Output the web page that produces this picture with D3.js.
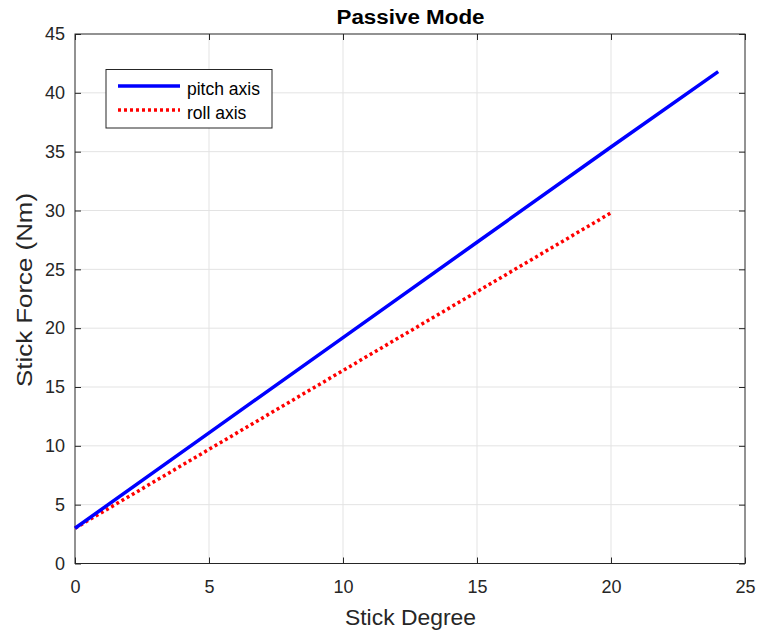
<!DOCTYPE html>
<html>
<head>
<meta charset="utf-8">
<script src="https://cdn.jsdelivr.net/npm/d3@7"></script>
<style>
  body { margin: 0; background: #fff; }
  text { font-family: "Liberation Sans", Arial, sans-serif; }
</style>
</head>
<body>
<div id="mainCanvas"></div>
<script>
// data
var pitchDeg = [0, 5, 10, 15, 20, 24];
var pitchForce = [3.0, 11.1, 19.2, 27.3, 35.4, 41.8];
var rollDeg = [0, 5, 10, 15, 20];
var rollForce = [3.0, 9.7, 16.4, 23.1, 29.8];
var xTicks = [0, 5, 10, 15, 20, 25];
var yTicks = [0, 5, 10, 15, 20, 25, 30, 35, 40, 45];
var seriesNames = ["pitch axis", "roll axis"];

var W = 758, H = 634;
var pLeft = 75, pRight = 745, pTop = 34, pBottom = 563.5;

var svg = d3.select("#mainCanvas").append("svg")
        .attr("width", W)
        .attr("height", H);

var x = d3.scaleLinear().domain([0, 25]).range([pLeft, pRight]);
var y = d3.scaleLinear().domain([0, 45]).range([pBottom, pTop]);

// grid
svg.append("g").selectAll("line").data(xTicks.slice(1, -1)).enter().append("line")
        .attr("x1", d => x(d)).attr("x2", d => x(d))
        .attr("y1", pTop).attr("y2", pBottom)
        .style("stroke", "#e3e3e3").style("stroke-width", 1);
svg.append("g").selectAll("line").data(yTicks.slice(1, -1)).enter().append("line")
        .attr("y1", d => y(d)).attr("y2", d => y(d))
        .attr("x1", pLeft).attr("x2", pRight)
        .style("stroke", "#e3e3e3").style("stroke-width", 1);

// axes, matlab style: inward ticks on all four sides
var axColor = "#262626";
function styleAxis(g){
    g.select(".domain").remove();
    g.selectAll(".tick line").style("stroke", axColor);
    g.selectAll(".tick text").style("fill", axColor).style("font-size", "18px")
        .style("font-family", "'Liberation Sans', Arial, sans-serif");
}
svg.append("g").attr("transform", "translate(0," + pBottom + ")")
        .call(d3.axisBottom(x).tickValues(xTicks).tickSize(-6).tickPadding(17))
        .call(styleAxis);
svg.append("g").attr("transform", "translate(0," + pTop + ")")
        .call(d3.axisTop(x).tickValues(xTicks).tickSize(-6).tickFormat(""))
        .call(styleAxis);
svg.append("g").attr("transform", "translate(" + pLeft + ",0)")
        .call(d3.axisLeft(y).tickValues(yTicks).tickSize(-6).tickPadding(10))
        .call(styleAxis);
svg.append("g").attr("transform", "translate(" + pRight + ",0)")
        .call(d3.axisRight(y).tickValues(yTicks).tickSize(-6).tickFormat(""))
        .call(styleAxis);

svg.append("rect")
        .attr("x", pLeft).attr("y", pTop)
        .attr("width", pRight - pLeft).attr("height", pBottom - pTop)
        .style("fill", "none").style("stroke", axColor).style("stroke-width", 1);

var line = d3.line().x(d => x(d[0])).y(d => y(d[1]));

svg.append("path")
        .datum(d3.zip(rollDeg, rollForce))
        .attr("d", line)
        .style("fill", "none").style("stroke", "#ff0000")
        .style("stroke-width", 3.5).style("stroke-dasharray", "3,3");

svg.append("path")
        .datum(d3.zip(pitchDeg, pitchForce))
        .attr("d", line)
        .style("fill", "none").style("stroke", "#0000ff")
        .style("stroke-width", 3.5);

// legend
var lg = svg.append("g");
lg.append("rect")
        .attr("x", 106).attr("y", 69.5).attr("width", 166).attr("height", 58.5)
        .style("fill", "#fff").style("stroke", axColor).style("stroke-width", 1);
lg.append("line").attr("x1", 118).attr("x2", 180).attr("y1", 86).attr("y2", 86)
        .style("stroke", "#0000ff").style("stroke-width", 3.5);
lg.append("line").attr("x1", 118).attr("x2", 180).attr("y1", 110).attr("y2", 110)
        .style("stroke", "#ff0000").style("stroke-width", 3.5).style("stroke-dasharray", "3,3");
lg.selectAll("text.lab").data(seriesNames).enter().append("text")
        .attr("class", "lab")
        .attr("x", 187).attr("y", (d, i) => 94.5 + i * 24)
        .style("font-size", "17.5px").style("fill", "#000")
        .text(d => d);

// labels
svg.append("text").attr("x", 410.5).attr("y", 23.5)
        .attr("text-anchor", "middle")
        .attr("textLength", 148).attr("lengthAdjust", "spacingAndGlyphs")
        .style("font-size", "20px").style("font-weight", "bold").style("fill", "#000")
        .text("Passive Mode");
svg.append("text").attr("x", 410.5).attr("y", 624.5)
        .attr("text-anchor", "middle")
        .attr("textLength", 131).attr("lengthAdjust", "spacingAndGlyphs")
        .style("font-size", "22px").style("fill", axColor)
        .text("Stick Degree");
svg.append("text")
        .attr("transform", "translate(32,290) rotate(-90)")
        .attr("text-anchor", "middle")
        .attr("textLength", 194).attr("lengthAdjust", "spacingAndGlyphs")
        .style("font-size", "22px").style("fill", axColor)
        .text("Stick Force (Nm)");
</script>
</body>
</html>
